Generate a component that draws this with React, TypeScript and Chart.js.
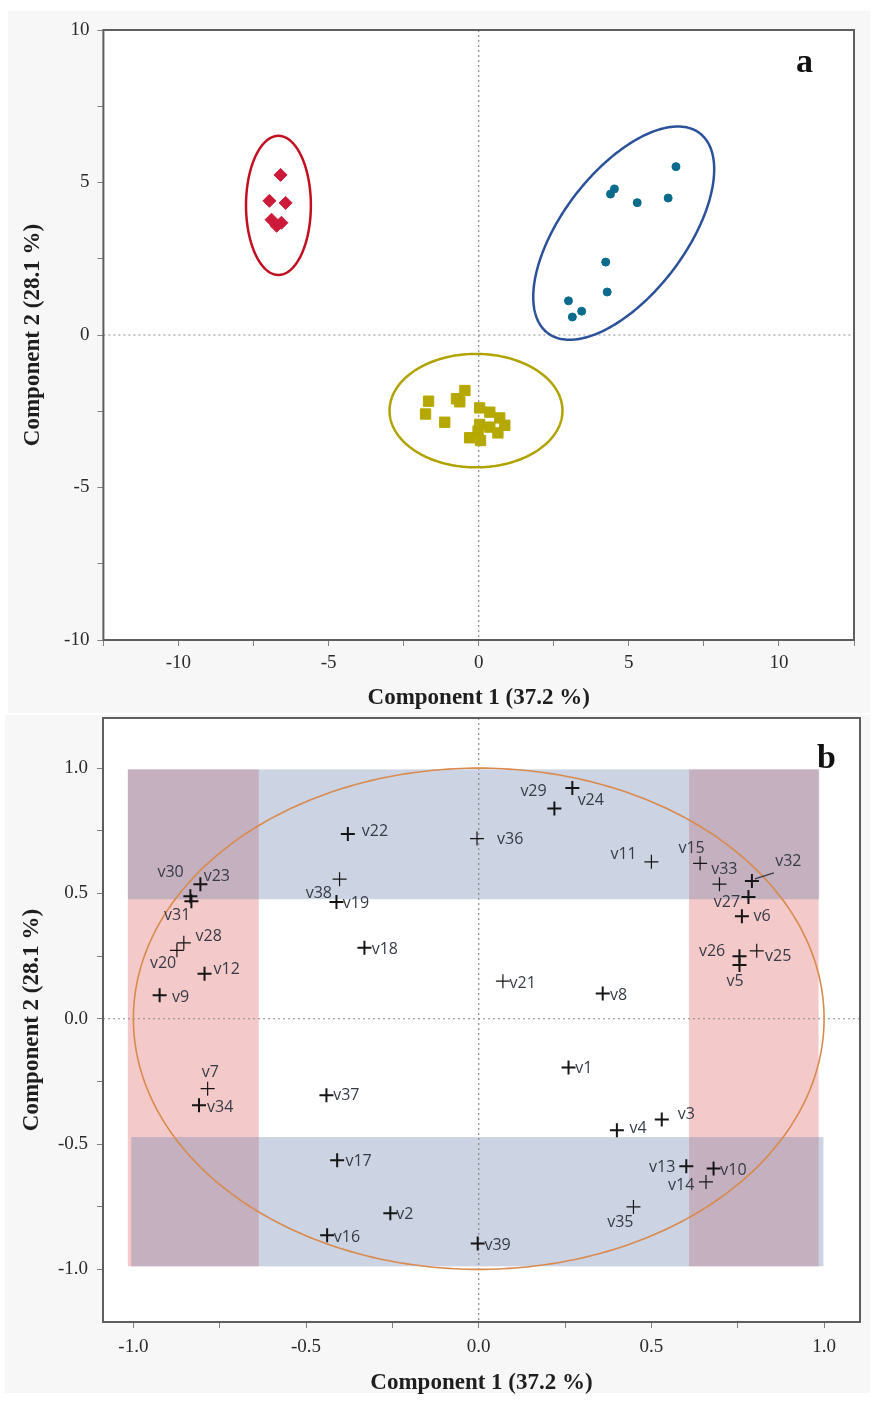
import React, { useEffect, useRef } from 'react';
import { Chart, registerables } from 'chart.js';

Chart.register(...registerables);

// ---------------- Panel a : component scores ----------------
const redX = [-6.6, -6.97, -6.43, -6.9, -6.57, -6.73];
const redY = [5.25, 4.4, 4.33, 3.78, 3.68, 3.58];

const blueX = [6.57, 4.52, 4.39, 5.28, 6.31, 4.23, 4.28, 2.99, 3.43, 3.12];
const blueY = [5.52, 4.79, 4.62, 4.34, 4.49, 2.39, 1.41, 1.12, 0.78, 0.59];

const yellowX = [-1.67, -1.77, -1.13, -0.74, -0.63, -0.46, 0.03, 0.37, 0.7, 0.87, 0.03, 0.37, 0.64, -0.3, 0.06, -0.02];
const yellowY = [-2.17, -2.59, -2.86, -2.09, -2.19, -1.82, -2.39, -2.53, -2.72, -2.96, -2.93, -3.02, -3.21, -3.37, -3.46, -3.15];

// group ellipses (centre, semi-axes, rotation in degrees), data units
const ellipseCx = [-6.67, 4.83, -0.09];
const ellipseCy = [4.25, 3.34, -2.48];
const ellipseRx = [1.08, 4.14, 2.88];
const ellipseRy = [2.28, 2.04, 1.86];
const ellipseAngle = [0, 52, 0];
const ellipseColor = ['#c20f22', '#2b519b', '#b0a300'];

// ---------------- Panel b : loadings ----------------
const varNames = [
  'v1', 'v2', 'v3', 'v4', 'v5', 'v6', 'v7', 'v8', 'v9', 'v10',
  'v11', 'v12', 'v13', 'v14', 'v15', 'v16', 'v17', 'v18', 'v19', 'v20',
  'v21', 'v22', 'v23', 'v24', 'v25', 'v26', 'v27', 'v28', 'v29', 'v30',
  'v31', 'v32', 'v33', 'v34', 'v35', 'v36', 'v37', 'v38', 'v39',
];
const loadX = [
  0.26, -0.256, 0.53, 0.4, 0.755, 0.762, -0.785, 0.359, -0.924, 0.68,
  0.5, -0.794, 0.601, 0.658, 0.641, -0.439, -0.41, -0.331, -0.412, -0.874,
  0.07, -0.379, -0.806, 0.271, 0.805, 0.755, 0.781, -0.854, 0.219, -0.835,
  -0.832, 0.791, 0.697, -0.81, 0.448, -0.005, -0.441, -0.403, -0.003,
];
const loadY = [
  -0.195, -0.776, -0.402, -0.445, 0.214, 0.409, -0.279, 0.101, 0.094, -0.598,
  0.626, 0.18, -0.589, -0.651, 0.62, -0.864, -0.565, 0.283, 0.466, 0.273,
  0.15, 0.737, 0.537, 0.921, 0.271, 0.249, 0.486, 0.303, 0.839, 0.489,
  0.469, 0.55, 0.537, -0.345, -0.751, 0.719, -0.305, 0.557, -0.897,
];

// shaded regions [x0, x1, y0, y1] in data units
const regionX0 = [-1.016, 0.609, -1.016, -1.006];
const regionX1 = [-0.637, 0.984, 0.986, 0.998];
const regionY0 = [-0.988, -0.988, 0.477, -0.988];
const regionY1 = [0.995, 0.995, 0.995, -0.472];
const PINK = 'rgba(222, 100, 100, 0.35)';
const BLUE = 'rgba(110, 130, 172, 0.35)';
const regionColor = [PINK, PINK, BLUE, BLUE];

// ---------------- styles (label placement, marker weights) ----------------
// label offset from marker in px, alignment l = text starts, r = text ends, c = centred
const labelDx = [6.7, 6, 16, 12.7, -4.3, 11.7, 2.7, 7.3, 12.3, 6.7, -14.7, 9, -11, -11.7, -21.7, 6.7, 8.3, 7.3, 6.3, -0.7, 6.7, 14, 3.3, 5.3, 8.3, -14.3, -8.3, 11.7, -7.7, -6.7, -1, 23.3, -8.3, 8, 0, 20, 6.7, -7.6, 6.7];
const labelDy = [1, 1.3, -5.3, -1.7, 16.7, 0, -16.7, 1.7, 2.3, 2.3, -7.3, -4, 0.7, 3.3, -15, 1.7, 1, 1.7, 1, 13.3, 2.3, -3, -7.3, 12.3, 6, -5.3, 5.7, -6.7, -16.7, -24, 14, -19, -14.7, 2.3, 15, 0.7, 0, 14.3, 2.3];
const labelAlign = ['l', 'l', 'l', 'l', 'c', 'l', 'c', 'l', 'l', 'l', 'r', 'l', 'r', 'r', 'l', 'l', 'l', 'l', 'l', 'r', 'l', 'l', 'l', 'l', 'l', 'r', 'r', 'l', 'r', 'r', 'r', 'l', 'l', 'l', 'r', 'l', 'l', 'r', 'l'];
const thinMarkers = ['v7', 'v11', 'v14', 'v15', 'v20', 'v21', 'v25', 'v28', 'v33', 'v35', 'v36', 'v38'];

const SERIF = '"Liberation Serif", "Times New Roman", serif';
const SANS = '"Open Sans", "Noto Sans", sans-serif';

function makeAxis(o: any) {
  const isLeft = o.position === 'left';
  return {
    type: 'linear',
    position: o.position,
    min: o.min,
    max: o.max,
    afterFit: (s: any) => {
      if (isLeft) {
        s.width = o.size;
        s.paddingTop = 0;
        s.paddingBottom = 0;
      } else {
        s.height = o.size;
        s.paddingLeft = 0;
        s.paddingRight = 0;
      }
    },
    grid: { display: true, drawOnChartArea: false, drawTicks: true, tickLength: 6, tickColor: '#808080', tickWidth: 1, color: '#808080' },
    border: { display: false },
    ticks: {
      stepSize: o.step,
      includeBounds: false,
      autoSkip: false,
      maxRotation: 0,
      minRotation: 0,
      padding: o.tickPad,
      color: '#2a2a2a',
      font: { family: SERIF, size: 19 },
      callback: (v: any) => o.fmt(Number(v)),
    },
    title: {
      display: true,
      text: o.title,
      color: '#1e1e1e',
      font: { family: SERIF, size: 23, weight: 'bold' },
      padding: isLeft ? { top: o.titlePad, bottom: 0 } : { top: 0, bottom: o.titlePad },
    },
  };
}

const fmtA = (v: number) => (Math.abs(v / 5 - Math.round(v / 5)) < 1e-9 ? String(Math.round(v)) : '');
const fmtB = (v: number) => (Math.abs(v * 2 - Math.round(v * 2)) < 1e-6 ? v.toFixed(1) : '');

function fillArea(chart: any) {
  const { ctx, chartArea: a } = chart;
  ctx.save();
  ctx.fillStyle = '#ffffff';
  ctx.fillRect(a.left, a.top, a.right - a.left, a.bottom - a.top);
  ctx.restore();
}

function drawFrame(chart: any) {
  const { ctx, chartArea: a } = chart;
  ctx.save();
  ctx.strokeStyle = '#5e5e5e';
  ctx.lineWidth = 2;
  ctx.strokeRect(a.left, a.top, a.right - a.left, a.bottom - a.top);
  ctx.restore();
}

function drawZeroLines(chart: any) {
  const { ctx, chartArea: a, scales } = chart;
  const x0 = scales.x.getPixelForValue(0);
  const y0 = scales.y.getPixelForValue(0);
  ctx.save();
  ctx.strokeStyle = '#8a8a8a';
  ctx.lineWidth = 1.2;
  ctx.setLineDash([2, 3]);
  ctx.beginPath();
  ctx.moveTo(x0, a.top);
  ctx.lineTo(x0, a.bottom);
  ctx.moveTo(a.left, y0);
  ctx.lineTo(a.right, y0);
  ctx.stroke();
  ctx.restore();
}

function traceEllipse(ctx: any, sx: any, sy: any, cx: number, cy: number, rx: number, ry: number, angDeg: number) {
  const th = (angDeg * Math.PI) / 180;
  ctx.beginPath();
  const n = 360;
  for (let k = 0; k <= n; k++) {
    const t = (k / n) * 2 * Math.PI;
    const dx = rx * Math.cos(t);
    const dy = ry * Math.sin(t);
    const X = cx + dx * Math.cos(th) - dy * Math.sin(th);
    const Y = cy + dx * Math.sin(th) + dy * Math.cos(th);
    const px = sx.getPixelForValue(X);
    const py = sy.getPixelForValue(Y);
    if (k === 0) ctx.moveTo(px, py);
    else ctx.lineTo(px, py);
  }
  ctx.closePath();
}

function drawPanelLetter(chart: any, letter: string, x: number, y: number) {
  const { ctx } = chart;
  ctx.save();
  ctx.fillStyle = '#111';
  ctx.font = `bold 34px ${SERIF}`;
  ctx.textAlign = 'left';
  ctx.textBaseline = 'alphabetic';
  ctx.fillText(letter, x, y);
  ctx.restore();
}

function buildScoreConfig(): any {
  const RED = '#cc1a3a';
  const TEAL = '#0b6b8c';
  const OLIVE = '#b5a800';
  return {
    type: 'scatter',
    data: {
      datasets: [
        {
          label: 'Group 1',
          data: redX.map((x, i) => ({ x, y: redY[i] })),
          pointStyle: 'rectRot',
          pointRadius: 6.5,
          backgroundColor: RED,
          borderColor: RED,
          pointBackgroundColor: RED,
          pointBorderColor: RED,
          pointBorderWidth: 1,
        },
        {
          label: 'Group 2',
          data: blueX.map((x, i) => ({ x, y: blueY[i] })),
          pointStyle: 'circle',
          pointRadius: 4,
          backgroundColor: TEAL,
          borderColor: TEAL,
          pointBackgroundColor: TEAL,
          pointBorderColor: TEAL,
          pointBorderWidth: 1,
        },
        {
          label: 'Group 3',
          data: yellowX.map((x, i) => ({ x, y: yellowY[i] })),
          pointStyle: 'rect',
          pointRadius: 7.3,
          backgroundColor: OLIVE,
          borderColor: OLIVE,
          pointBackgroundColor: OLIVE,
          pointBorderColor: OLIVE,
          pointBorderWidth: 1,
        },
      ],
    },
    options: {
      responsive: false,
      maintainAspectRatio: false,
      animation: false,
      events: [],
      layout: { padding: { left: 0, top: 19, right: 16, bottom: 0 } },
      plugins: { legend: { display: false }, tooltip: { enabled: false } },
      scales: {
        x: makeAxis({ position: 'bottom', min: -12.5, max: 12.5, step: 2.5, fmt: fmtA, title: 'Component 1 (37.2 %)', size: 73, tickPad: 6, titlePad: 1.5 }),
        y: makeAxis({ position: 'left', min: -10, max: 10, step: 2.5, fmt: fmtA, title: 'Component 2 (28.1 %)', size: 95.4, tickPad: 8, titlePad: 11.5 }),
      },
    },
    plugins: [
      {
        id: 'scoreDecor',
        beforeDraw: (chart: any) => fillArea(chart),
        beforeDatasetsDraw: (chart: any) => {
          drawZeroLines(chart);
          const { ctx, scales } = chart;
          ctx.save();
          ctx.lineWidth = 2.5;
          for (let i = 0; i < ellipseCx.length; i++) {
            ctx.strokeStyle = ellipseColor[i];
            traceEllipse(ctx, scales.x, scales.y, ellipseCx[i], ellipseCy[i], ellipseRx[i], ellipseRy[i], ellipseAngle[i]);
            ctx.stroke();
          }
          ctx.restore();
        },
        afterDraw: (chart: any) => {
          drawFrame(chart);
          drawPanelLetter(chart, 'a', chart.chartArea.right - 58, chart.chartArea.top + 42);
        },
      },
    ],
  };
}

function buildLoadingConfig(): any {
  const weights = varNames.map((n) => (thinMarkers.includes(n) ? 1.2 : 2));
  return {
    type: 'scatter',
    data: {
      labels: varNames,
      datasets: [
        {
          label: 'Loadings',
          data: loadX.map((x, i) => ({ x, y: loadY[i] })),
          pointStyle: 'cross',
          pointRadius: 7,
          borderColor: '#151515',
          pointBorderColor: '#151515',
          pointBorderWidth: weights,
          backgroundColor: '#151515',
        },
      ],
    },
    options: {
      responsive: false,
      maintainAspectRatio: false,
      animation: false,
      events: [],
      layout: { padding: { left: 0, top: 9, right: 10, bottom: 0 } },
      plugins: { legend: { display: false }, tooltip: { enabled: false } },
      scales: {
        x: makeAxis({ position: 'bottom', min: -1.088, max: 1.104, step: 0.25, fmt: fmtB, title: 'Component 1 (37.2 %)', size: 81, tickPad: 8, titlePad: 6.3 }),
        y: makeAxis({ position: 'left', min: -1.21, max: 1.2, step: 0.25, fmt: fmtB, title: 'Component 2 (28.1 %)', size: 98, tickPad: 9, titlePad: 13.3 }),
      },
    },
    plugins: [
      {
        id: 'loadingDecor',
        beforeDraw: (chart: any) => fillArea(chart),
        beforeDatasetsDraw: (chart: any) => {
          const { ctx, scales } = chart;
          const sx = scales.x;
          const sy = scales.y;
          ctx.save();
          for (let i = 0; i < regionX0.length; i++) {
            const l = sx.getPixelForValue(regionX0[i]);
            const r = sx.getPixelForValue(regionX1[i]);
            const t = sy.getPixelForValue(regionY1[i]);
            const b = sy.getPixelForValue(regionY0[i]);
            ctx.fillStyle = regionColor[i];
            ctx.fillRect(l, t, r - l, b - t);
          }
          ctx.restore();
          drawZeroLines(chart);
          ctx.save();
          ctx.strokeStyle = '#d98a4e';
          ctx.lineWidth = 1.6;
          traceEllipse(ctx, sx, sy, 0, 0, 1, 1, 0);
          ctx.stroke();
          ctx.restore();
        },
        afterDatasetsDraw: (chart: any) => {
          const { ctx, scales } = chart;
          ctx.save();
          ctx.font = `16px ${SANS}`;
          ctx.fillStyle = '#363b46';
          ctx.textBaseline = 'middle';
          for (let i = 0; i < varNames.length; i++) {
            const px = scales.x.getPixelForValue(loadX[i]);
            const py = scales.y.getPixelForValue(loadY[i]);
            const al = labelAlign[i];
            ctx.textAlign = al === 'l' ? 'left' : al === 'r' ? 'right' : 'center';
            ctx.fillText(varNames[i], px + labelDx[i], py + labelDy[i]);
            if (varNames[i] === 'v32') {
              ctx.strokeStyle = '#363b46';
              ctx.lineWidth = 1.2;
              ctx.beginPath();
              ctx.moveTo(px + 3, py - 2);
              ctx.lineTo(px + 22, py - 8);
              ctx.stroke();
            }
          }
          ctx.restore();
        },
        afterDraw: (chart: any) => {
          drawFrame(chart);
          drawPanelLetter(chart, 'b', chart.chartArea.right - 43, chart.chartArea.top + 50);
        },
      },
    ],
  };
}

export default function App() {
  const aRef = useRef<HTMLCanvasElement>(null);
  const bRef = useRef<HTMLCanvasElement>(null);
  useEffect(() => {
    const ca = new Chart(aRef.current as HTMLCanvasElement, buildScoreConfig());
    const cb = new Chart(bRef.current as HTMLCanvasElement, buildLoadingConfig());
    return () => {
      ca.destroy();
      cb.destroy();
    };
  }, []);
  return (
    <div style={{ position: 'absolute', left: 0, top: 0, width: 875, height: 1403, background: '#ffffff', overflow: 'hidden' }}>
      <div style={{ position: 'absolute', left: 8, top: 11, width: 862, height: 702, background: '#f7f7f7' }} />
      <div style={{ position: 'absolute', left: 5, top: 715, width: 865, height: 678, background: '#f7f7f7' }} />
      <canvas ref={aRef} width={862} height={702} style={{ position: 'absolute', left: 8, top: 11, width: 862, height: 702 }} />
      <canvas ref={bRef} width={865} height={694} style={{ position: 'absolute', left: 5, top: 709, width: 865, height: 694 }} />
    </div>
  );
}
